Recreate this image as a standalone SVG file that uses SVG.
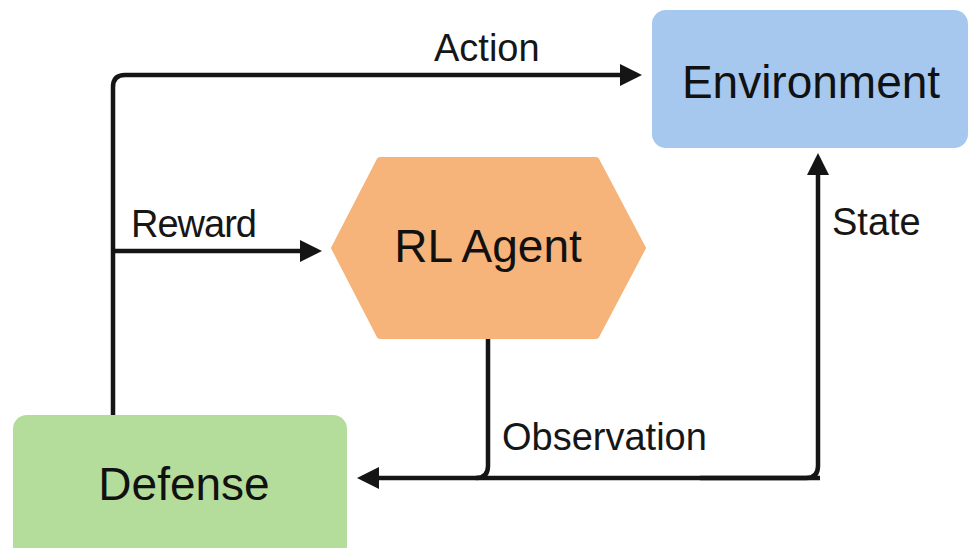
<svg xmlns="http://www.w3.org/2000/svg" width="968" height="548" viewBox="0 0 968 548">
  <style>
    .node-label { font-family: "Liberation Sans", Arial, sans-serif; font-size: 46px; fill: #111111; text-anchor: middle; }
    .edge-label { font-family: "Liberation Sans", Arial, sans-serif; font-size: 38px; fill: #161616; }
    .edge { fill: none; stroke: #151515; stroke-width: 4.5; stroke-linejoin: round; }
  </style>
  <defs>
    <marker id="arrow" markerUnits="userSpaceOnUse" markerWidth="22" markerHeight="22" viewBox="0 0 22 22" refX="17" refY="11" orient="auto">
      <path d="M0,0 L22,11 L0,22 Z" fill="#151515"/>
    </marker>
  </defs>

  <rect width="968" height="548" fill="#ffffff"/>

  <!-- Connectors -->
  <g id="connectors">
    <!-- Action: Defense up and across to Environment -->
    <path class="edge" d="M113,415 V87 Q113,75 125,75 H637" marker-end="url(#arrow)"/>
    <!-- Reward: branch into the agent -->
    <path class="edge" d="M113,251 H317" marker-end="url(#arrow)"/>
    <!-- State: bottom line up into Environment -->
    <path class="edge" d="M700,478 H806 Q818,478 818,466 V158" marker-end="url(#arrow)"/>
    <!-- Bottom line back to Defense -->
    <path class="edge" d="M820,478 H362" marker-end="url(#arrow)"/>
    <!-- Observation: agent down into the bottom line -->
    <path class="edge" d="M488,338 V466 Q488,478 476,478"/>
  </g>

  <!-- Labels on connectors -->
  <g id="edge-labels">
    <text class="edge-label" x="434" y="61">Action</text>
    <text class="edge-label" x="131" y="237" textLength="126">Reward</text>
    <text class="edge-label" x="832" y="235">State</text>
    <text class="edge-label" x="502" y="450">Observation</text>
  </g>

  <g id="environment">
    <rect x="652" y="10" width="316" height="138" rx="14" fill="#a6c8ee"/>
    <text class="node-label" x="811" y="98">Environment</text>
  </g>

  <g id="rl-agent">
    <path d="M332,248 L378,159 Q379,158 381,158 L595,158 Q597,158 598,159 L645,248 L598,337 Q597,338 595,338 L381,338 Q379,338 378,337 Z" fill="#f6b47a" stroke="#f6b47a" stroke-width="2" stroke-linejoin="round"/>
    <text class="node-label" x="488" y="262">RL Agent</text>
  </g>

  <g id="defense">
    <rect x="13" y="415" width="334" height="146" rx="14" fill="#b4dc9a"/>
    <text class="node-label" x="184" y="500">Defense</text>
  </g>
</svg>
